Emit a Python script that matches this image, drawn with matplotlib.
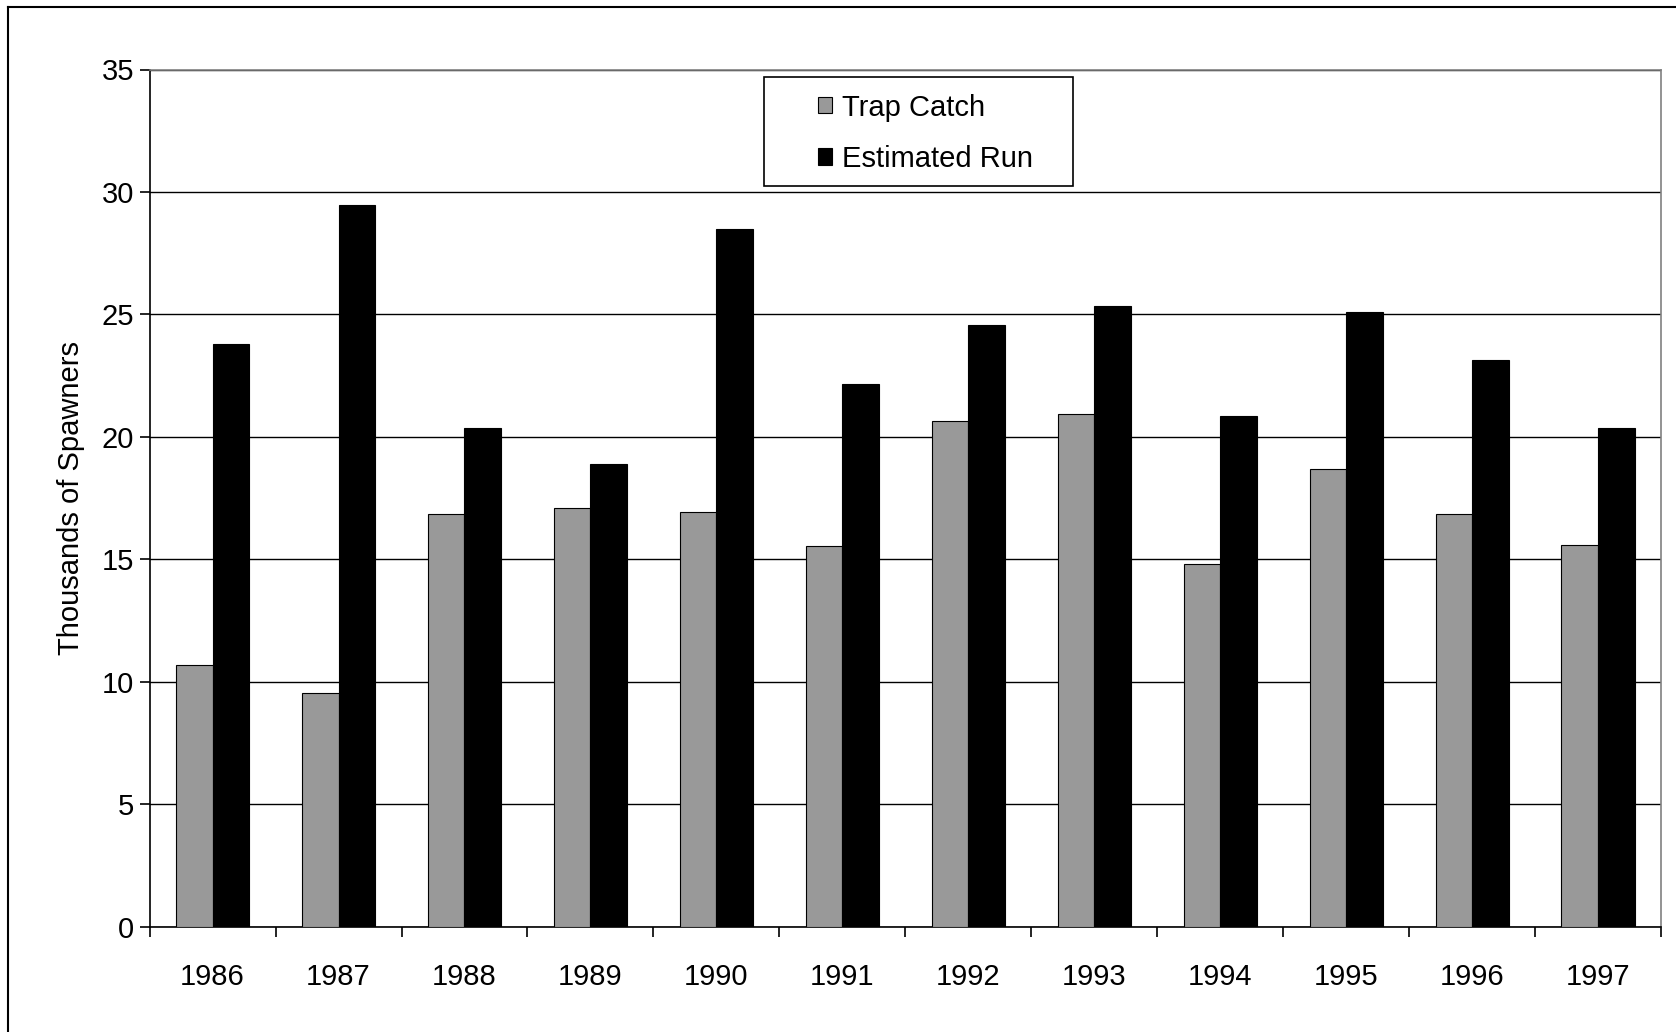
import matplotlib
matplotlib.use("Agg")
import matplotlib.pyplot as plt
import numpy as np
from matplotlib.lines import Line2D
from matplotlib.patches import Rectangle

plt.rcParams['font.family'] = ['Liberation Sans', 'DejaVu Sans']

years = ['1986', '1987', '1988', '1989', '1990', '1991',
         '1992', '1993', '1994', '1995', '1996', '1997']
trap_catch = [10.7, 9.55, 16.85, 17.1, 16.95, 15.55, 20.65, 20.95, 14.8, 18.7, 16.85, 15.6]
estimated_run = [23.8, 29.45, 20.35, 18.9, 28.5, 22.15, 24.55, 25.35, 20.85, 25.1, 23.15, 20.35]

W, H = 1676, 1032
fig = plt.figure(figsize=(W / 100, H / 100), dpi=100)
ax = fig.add_axes([149.6 / W, 1 - 926.7 / H, (1661 - 149.6) / W, (926.7 - 69.5) / H])

x = np.arange(len(years))
bw = 0.29
ax.bar(x - bw / 2, trap_catch, bw, color='#999999', edgecolor='black', linewidth=0.8,
       label='Trap Catch', zorder=3)
ax.bar(x + bw / 2, estimated_run, bw, color='black', edgecolor='black', linewidth=0.8,
       label='Estimated Run', zorder=3)

ax.set_xlim(-0.5, len(years) - 0.5)
ax.set_ylim(0, 35)
ax.set_yticks(np.arange(0, 36, 5))
ax.yaxis.grid(True, color='black', linewidth=1.0, zorder=0)
ax.set_axisbelow(True)

# category labels centred, ticks on the boundaries
ax.set_xticks(x)
ax.set_xticklabels(years, fontsize=21)
ax.set_xticks(np.arange(-0.5, len(years)), minor=True)
ax.tick_params(axis='x', which='major', length=0, pad=26)
ax.tick_params(axis='x', which='minor', length=7, width=1.2, direction='out')
ax.tick_params(axis='y', length=7, width=1.2, labelsize=21, pad=4)

ax.spines['left'].set_linewidth(1.2)
ax.spines['bottom'].set_linewidth(1.2)
ax.spines['top'].set_color('#808080')
ax.spines['right'].set_color('#808080')
ax.spines['top'].set_linewidth(1.2)
ax.spines['right'].set_linewidth(1.2)

ax.set_ylabel('Thousands of Spawners', fontsize=21, labelpad=12)

# legend box drawn separately so the entries can sit inset like the original
ax.add_patch(Rectangle((0.4065, 0.864), 0.2045, 0.127, transform=ax.transAxes,
                       facecolor='white', edgecolor='black', linewidth=1.2, zorder=5))
leg = ax.legend(loc='upper left', bbox_to_anchor=(0.442, 0.972),
                fontsize=21, frameon=False, handlelength=0.5, handleheight=0.5,
                handletextpad=0.35, borderpad=0, labelspacing=0.8,
                borderaxespad=0)
leg.set_zorder(6)

# outer chart frame (left and top edges visible)
fig.add_artist(Line2D([8 / W, 8 / W], [0, 1 - 7 / H], color='black', linewidth=1.5,
                      transform=fig.transFigure))
fig.add_artist(Line2D([8 / W, 1], [1 - 7 / H, 1 - 7 / H], color='black', linewidth=1.5,
                      transform=fig.transFigure))

fig.savefig('out.png', dpi=100, facecolor='white')
